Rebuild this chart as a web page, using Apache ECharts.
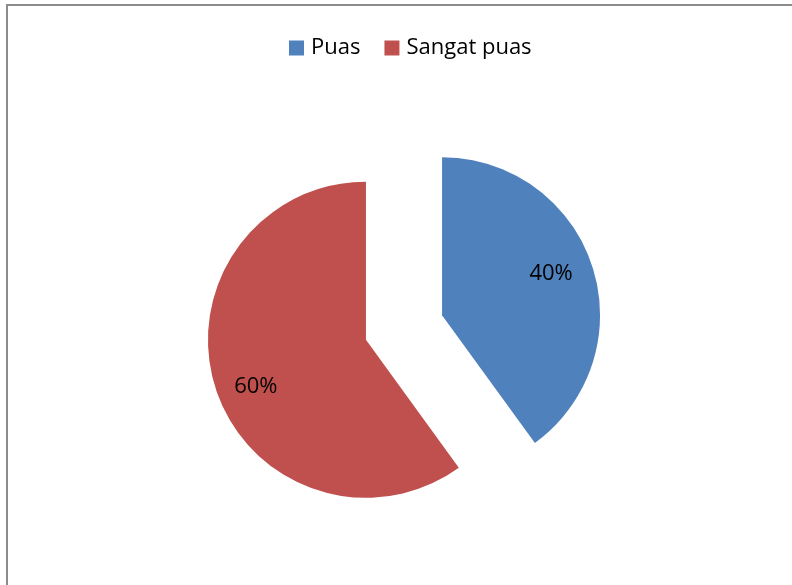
<!DOCTYPE html>
<html>
<head>
<meta charset="utf-8">
<script src="https://cdn.jsdelivr.net/npm/echarts@6/dist/echarts.min.js"></script>
<style>
  html, body { margin: 0; padding: 0; background: #fff; }
  #wrap { position: relative; width: 792px; height: 585px; overflow: hidden; }
  #frame { position: absolute; left: 6px; top: 4px; width: 800px; height: 600px;
           border-left: 2px solid #8c8c8c; border-top: 2px solid #8c8c8c; box-sizing: border-box; }
  #chart { position: absolute; left: 0; top: 0; width: 792px; height: 585px; }
</style>
</head>
<body>
<div id="wrap">
  <div id="frame"></div>
  <div id="chart"></div>
</div>
<script>
const categories = ['Puas', 'Sangat puas'];
const values = [40, 60];
const colors = ['#4F81BD', '#C0504D'];

const chart = echarts.init(document.getElementById('chart'), null, { renderer: 'canvas' });
const font = '"Open Sans", "Noto Sans", sans-serif';

const mainData = categories.map((name, i) => ({
  name, value: values[i], selected: true, itemStyle: { color: colors[i] }
}));
const labelData = categories.map((name, i) => ({
  name, value: values[i], selected: true
}));

// small label nudges so labels sit like the original's (text placement only)
const labelNudge = [{ dx: -6, dy: -4 }, { dx: 5, dy: 9 }];

chart.setOption({
  animation: false,
  backgroundColor: 'transparent',
  legend: {
    data: categories,
    left: 284,
    top: 32,
    icon: 'rect',
    itemWidth: 15,
    itemHeight: 15,
    itemGap: 24,
    textStyle: { fontFamily: font, fontSize: 22, color: '#000', padding: [0, 0, 0, 2] },
    selectedMode: false
  },
  series: [
    {
      type: 'pie',
      center: [404, 327.5],
      radius: [0, 158],
      startAngle: 90,
      clockwise: true,
      selectedMode: 'multiple',
      selectedOffset: 40,
      silent: true,
      emphasis: { disabled: true },
      label: { show: false },
      labelLine: { show: false },
      itemStyle: { borderWidth: 0 },
      data: mainData
    },
    {
      type: 'pie',
      center: [404, 327.5],
      radius: [0, 236],
      startAngle: 90,
      clockwise: true,
      selectedMode: 'multiple',
      selectedOffset: 40,
      silent: true,
      emphasis: { disabled: true },
      itemStyle: { color: 'rgba(0,0,0,0)', borderWidth: 0 },
      label: {
        show: true,
        position: 'inside',
        formatter: '{c}%',
        fontFamily: font,
        fontSize: 22,
        color: '#000'
      },
      labelLayout: (p) => labelNudge[p.dataIndex] || {},
      labelLine: { show: false },
      data: labelData
    }
  ]
});
</script>
</body>
</html>
